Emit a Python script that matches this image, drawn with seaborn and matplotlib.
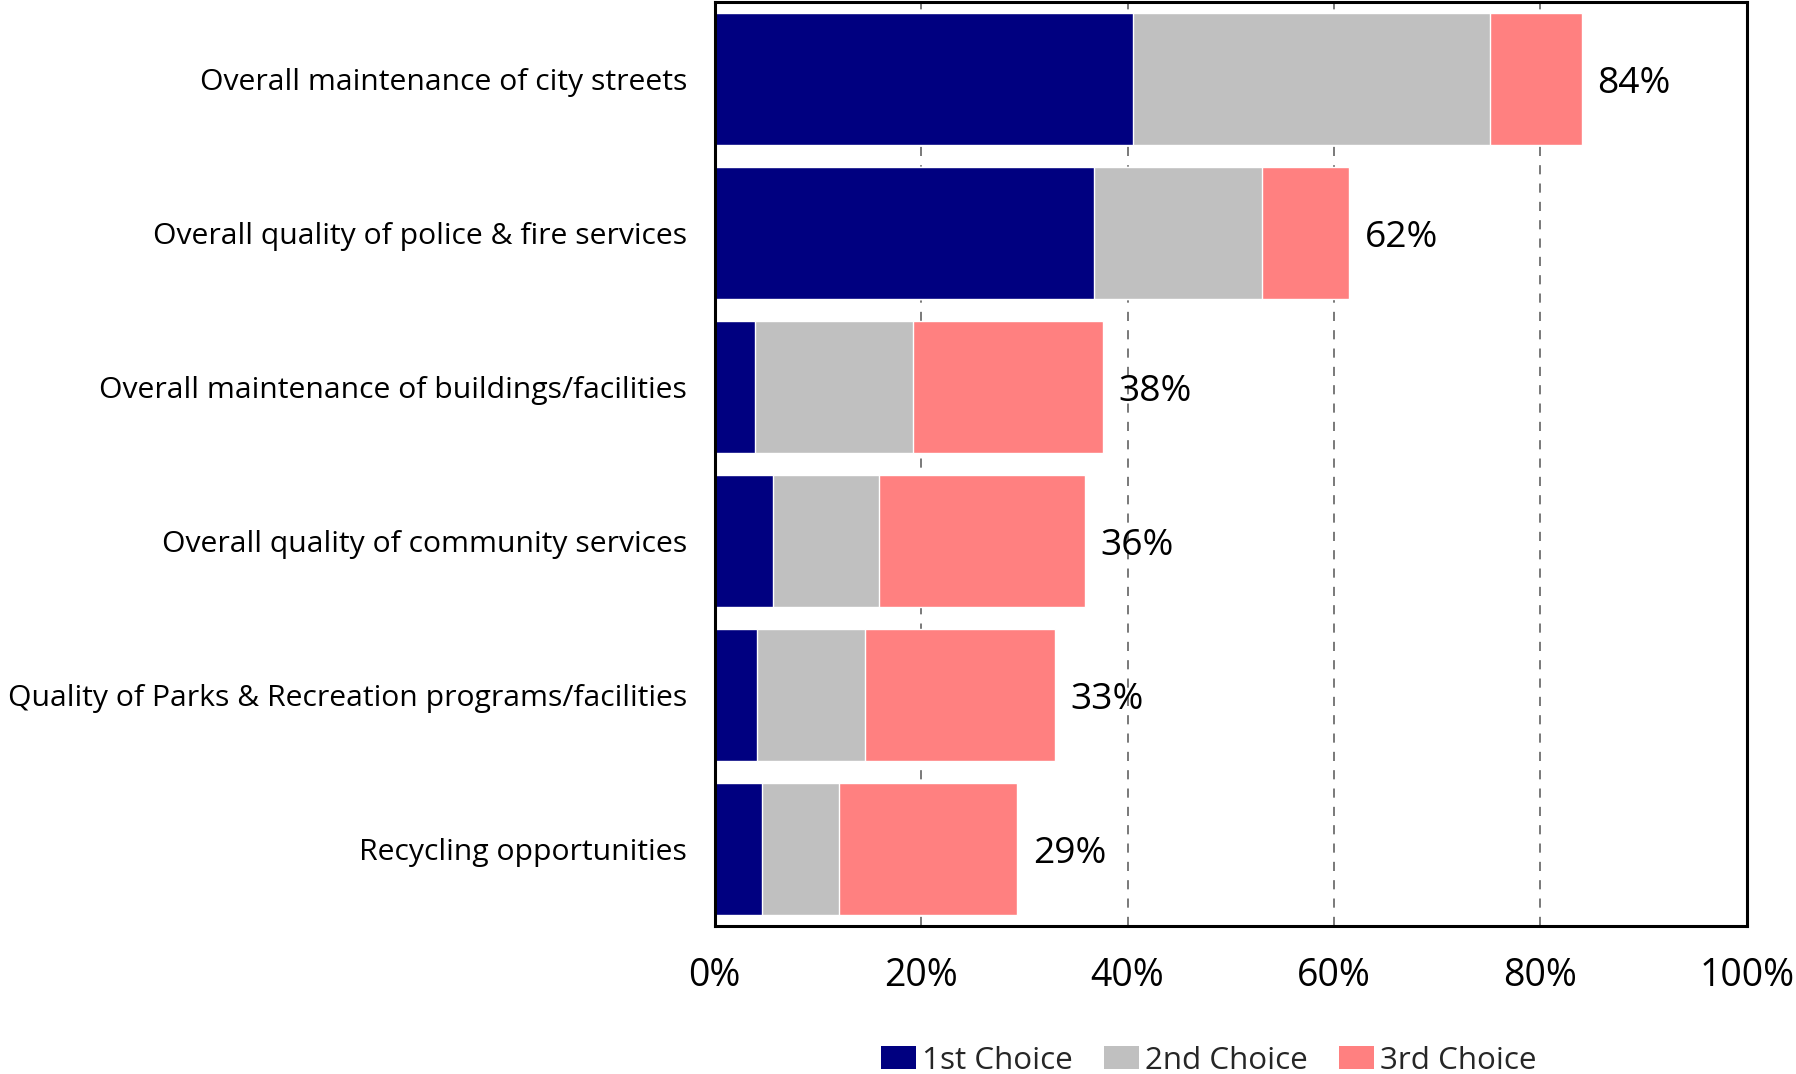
import matplotlib
matplotlib.use("Agg")
import matplotlib.pyplot as plt
import seaborn as sns
import pandas as pd
import numpy as np
from matplotlib.patches import Patch

categories = [
    "Overall maintenance of city streets",
    "Overall quality of police & fire services",
    "Overall maintenance of buildings/facilities",
    "Overall quality of community services",
    "Quality of Parks & Recreation programs/facilities",
    "Recycling opportunities",
]
first_choice = [40.5, 36.7, 3.9, 5.6, 4.1, 4.6]
second_choice = [34.6, 16.3, 15.3, 10.3, 10.5, 7.4]
third_choice = [8.9, 8.5, 18.4, 20.0, 18.4, 17.3]
total_labels = ["84%", "62%", "38%", "36%", "33%", "29%"]
series_names = ["1st Choice", "2nd Choice", "3rd Choice"]
colors = ["#000080", "#C0C0C0", "#FF8080"]

sns.set_theme(style="white")
plt.rcParams["font.family"] = ["Open Sans", "DejaVu Sans"]

df = pd.DataFrame({
    "category": categories,
    "c1": first_choice,
    "c2": np.array(first_choice) + np.array(second_choice),
    "c3": np.array(first_choice) + np.array(second_choice) + np.array(third_choice),
})

fig = plt.figure(figsize=(17.96, 10.74), dpi=100)
ax = fig.add_axes([0.398, 0.1378, 0.5746, 0.8602])

for col, c in zip(["c3", "c2", "c1"], colors[::-1]):
    sns.barplot(data=df, x=col, y="category", orient="h", color=c,
                width=0.855, saturation=1, ax=ax, zorder=3)

for i, (tot, lab) in enumerate(zip(df["c3"], total_labels)):
    ax.text(tot + 1.5, i, lab, va="center_baseline", ha="left", fontsize=26.8, color="black")

ax.set_xlim(0, 100)
ax.set_ylim(len(categories) - 0.5, -0.5)
ax.set_xticks([0, 20, 40, 60, 80, 100])
ax.set_xticklabels(["0%", "20%", "40%", "60%", "80%", "100%"])
ax.set_xlabel("")
ax.set_ylabel("")
ax.tick_params(axis="x", length=0, pad=22, labelsize=27, colors="black")
ax.tick_params(axis="y", length=0, pad=20, labelsize=21.7, colors="black")
for x in [20, 40, 60, 80]:
    ax.axvline(x, color="#555555", linestyle=(0, (6, 6)), linewidth=1.1, zorder=1)
for s in ax.spines.values():
    s.set_visible(True)
    s.set_color("black")
    s.set_linewidth(2.2)
    s.set_zorder(5)

handles = [Patch(facecolor=c, edgecolor="none") for c in colors]
fig.legend(handles, series_names, loc="lower center", bbox_to_anchor=(0.673, -0.028),
           ncol=3, frameon=False, fontsize=22.6, handlelength=1.1, handleheight=0.75,
           handletextpad=0.2, columnspacing=1.0)

fig.savefig("out.png", dpi=100)
